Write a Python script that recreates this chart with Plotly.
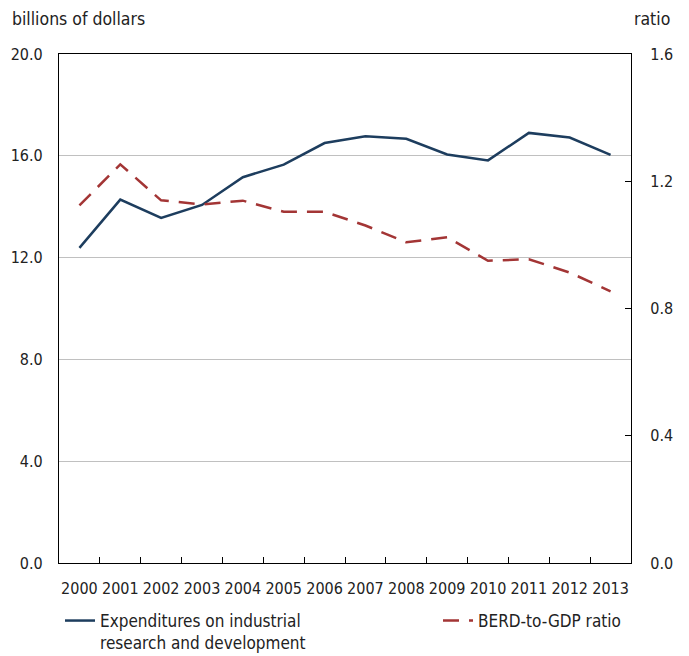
import plotly.graph_objects as go

years = ["2000", "2001", "2002", "2003", "2004", "2005", "2006",
         "2007", "2008", "2009", "2010", "2011", "2012", "2013"]
berd_billions = [12.38, 14.28, 13.56, 14.07, 15.16, 15.65, 16.50,
                 16.77, 16.67, 16.05, 15.82, 16.90, 16.72, 16.04]
berd_gdp_ratio = [1.124, 1.253, 1.140, 1.127, 1.139, 1.104, 1.104,
                  1.061, 1.008, 1.024, 0.950, 0.955, 0.913, 0.854]

left_ticks = [0, 4, 8, 12, 16, 20]
right_ticks = [0, 0.4, 0.8, 1.2, 1.6]

FONT = "DejaVu Sans Condensed, sans-serif"
BLUE = "#1d3d5e"
RED = "#a33535"

# page body has an 8px default margin, so the figure is 8px smaller
W, H = 681, 648
L, R, T, B = 51, 58, 46, 93
PW, PH = W - L - R, H - T - B

fig = go.Figure()
fig.add_trace(go.Scatter(
    x=years, y=berd_billions, mode="lines",
    name="Expenditures on industrial<br>research and development",
    line=dict(color=BLUE, width=2.5), yaxis="y", legend="legend"))
fig.add_trace(go.Scatter(
    x=years, y=berd_gdp_ratio, mode="lines",
    name="BERD-to-GDP ratio",
    line=dict(color=RED, width=2.5, dash="16px,10px"), yaxis="y2",
    legend="legend2"))

legend_common = dict(orientation="h", xref="container", yref="container",
                     xanchor="left", yanchor="top", valign="top",
                     font=dict(size=17), bgcolor="rgba(0,0,0,0)")

fig.update_layout(
    width=W, height=H,
    margin=dict(l=L, r=R, t=T, b=B, autoexpand=False),
    paper_bgcolor="white", plot_bgcolor="white",
    font=dict(family=FONT, size=16, color="#222"),
    showlegend=True,
    legend=dict(x=52 / W, y=1 - 595 / H, **legend_common),
    legend2=dict(x=430 / W, y=1 - 595 / H, **legend_common),
    xaxis=dict(type="category", showline=True, linecolor="#000", linewidth=1.2,
               mirror=True, ticks="inside", ticklen=6, tickcolor="#000",
               tickson="boundaries", showgrid=False, tickfont=dict(size=16),
               tickangle=0, ticklabelstandoff=11, automargin=False,
               range=[-0.5, 13.5]),
    yaxis=dict(range=[0, 20], tickvals=left_ticks,
               ticktext=[f"{v:.1f}" for v in left_ticks],
               showgrid=True, gridcolor="#c0c0c0", gridwidth=1.2,
               showline=True, linecolor="#000", linewidth=1.2, ticks="",
               zeroline=False, ticklabelstandoff=12, tickfont=dict(size=16),
               automargin=False),
    yaxis2=dict(range=[0, 1.6], tickvals=right_ticks,
                ticktext=[f"{v:.1f}" for v in right_ticks],
                overlaying="y", side="right", showgrid=False,
                showline=True, linecolor="#000", linewidth=1.2,
                ticks="inside", ticklen=6, tickcolor="#000",
                zeroline=False, ticklabelstandoff=15, tickfont=dict(size=16),
                automargin=False),
    annotations=[
        dict(text="billions of dollars", xref="paper", yref="paper",
             x=(2 - L) / PW, y=(H - B - 11) / PH, xanchor="left", yanchor="middle",
             showarrow=False, font=dict(size=17.5)),
        dict(text="ratio", xref="paper", yref="paper",
             x=(664 - L) / PW, y=(H - B - 11) / PH, xanchor="right", yanchor="middle",
             showarrow=False, font=dict(size=17.5)),
    ],
)

fig.write_html("out.html")
